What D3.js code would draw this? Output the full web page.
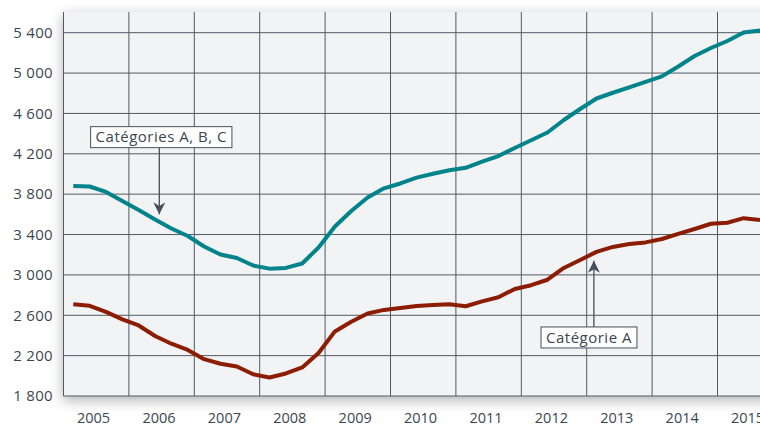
<!DOCTYPE html>
<html lang="fr">
<head>
    <meta charset="UTF-8">
    <title>Catégories A, B, C et Catégorie A</title>
    <style>
        body { margin: 0; background: #fff; }
        svg { display: block; font-family: "Open Sans", "Noto Sans", sans-serif; }
    </style>
</head>
<body>
    <script src="https://d3js.org/d3.v7.min.js"></script>
    <script>
        // quarterly series, first quarter of 2005 to the third of 2015
        let startYear = 2005;
        let catABC = [3880, 3876, 3822, 3733, 3642, 3548, 3460, 3386, 3282, 3202,
                      3168, 3093, 3062, 3069, 3113, 3272, 3480, 3633, 3767, 3858,
                      3906, 3964, 4002, 4037, 4061, 4122, 4178, 4258, 4334, 4411,
                      4535, 4644, 4748, 4805, 4859, 4912, 4967, 5065, 5169, 5248,
                      5318, 5402, 5422];
        let catA = [2710, 2694, 2633, 2560, 2499, 2395, 2318, 2256, 2165, 2120,
                    2093, 2015, 1984, 2023, 2083, 2226, 2440, 2536, 2618, 2653,
                    2672, 2692, 2702, 2709, 2689, 2738, 2778, 2861, 2898, 2952,
                    3069, 3148, 3228, 3277, 3306, 3322, 3356, 3406, 3455, 3507,
                    3517, 3562, 3544];
        let years = [2005, 2006, 2007, 2008, 2009, 2010, 2011, 2012, 2013, 2014, 2015];
        let yTicks = [1800, 2200, 2600, 3000, 3400, 3800, 4200, 4600, 5000, 5400];

        let width = 760, height = 425;
        let svg = d3.select("body").append("svg")
            .attr("width", width)
            .attr("height", height);

        let x = d3.scaleLinear().domain([2005, 2016]).range([63.5, 782.9]);
        let y = d3.scaleLinear().domain([1800, 5400]).range([396, 32.7]);

        let fmt = d3.formatLocale({decimal: ",", thousands: "\u00a0", grouping: [3], currency: ["", " €"]}).format(",d");

        // shadow under the plot box
        let defs = svg.append("defs");
        let f = defs.append("filter").attr("id", "shadow")
            .attr("x", "-10%").attr("y", "-20%").attr("width", "130%").attr("height", "140%");
        f.append("feDropShadow")
            .attr("dx", 0).attr("dy", 4)
            .attr("stdDeviation", 7)
            .attr("flood-color", "#000")
            .attr("flood-opacity", 0.32);

        defs.append("marker")
            .attr("id", "head")
            .attr("viewBox", "0 0 10 10")
            .attr("refX", 10).attr("refY", 5)
            .attr("markerWidth", 12).attr("markerHeight", 12)
            .attr("markerUnits", "userSpaceOnUse")
            .attr("orient", "auto")
            .append("path")
            .attr("d", "M0,0 L10,5 L0,10 L3,5 Z")
            .attr("fill", "#46505a");

        let x0 = x(2005), x1 = x(2016), yTop = 12, yBot = y(1800);
        svg.append("rect")
            .attr("x", x0).attr("y", yTop)
            .attr("width", x1 - x0).attr("height", yBot - yTop)
            .attr("fill", "#f2f3f5")
            .attr("filter", "url(#shadow)");

        // grid
        let grid = svg.append("g").attr("stroke", "#4f5a65").attr("stroke-width", 1);
        grid.selectAll("line.h").data(yTicks).enter().append("line")
            .attr("class", "h")
            .attr("x1", x0).attr("x2", x1)
            .attr("y1", d => y(d)).attr("y2", d => y(d));
        grid.selectAll("line.v").data(years).enter().append("line")
            .attr("class", "v")
            .attr("x1", d => x(d)).attr("x2", d => x(d))
            .attr("y1", yTop).attr("y2", yBot);

        // axis labels
        svg.append("g").selectAll("text").data(yTicks).enter().append("text")
            .attr("x", 53)
            .attr("y", d => y(d))
            .attr("dy", "0.35em")
            .attr("text-anchor", "end")
            .attr("font-size", 15)
            .attr("letter-spacing", 0.3)
            .attr("fill", "#3c4650")
            .text(d => fmt(d));

        svg.append("g").selectAll("text").data(years).enter().append("text")
            .attr("x", d => x(d + 0.46))
            .attr("y", 423)
            .attr("text-anchor", "middle")
            .attr("font-size", 14.5)
            .attr("fill", "#3c4650")
            .text(d => d);

        // lines
        let line = d3.line()
            .x((d, i) => x(startYear + 0.15 + i / 4))
            .y(d => y(d));

        svg.append("path").datum(catABC)
            .attr("d", line)
            .attr("fill", "none")
            .attr("stroke", "#00838a")
            .attr("stroke-width", 4)
            .attr("stroke-linejoin", "round");

        svg.append("path").datum(catA)
            .attr("d", line)
            .attr("fill", "none")
            .attr("stroke", "#8c1d02")
            .attr("stroke-width", 4)
            .attr("stroke-linejoin", "round");

        // annotations: box centre and arrow tip in data units
        let notes = [
            {text: "Catégories A, B, C", bx: 2006.495, by: 4365, ax: 2006.465, tip: 3600},
            {text: "Catégorie A", bx: 2013.035, by: 2380, ax: 2013.11, tip: 3140}
        ];

        notes.forEach(function(n){
            let g = svg.append("g");
            let cy = y(n.by);
            let boxH = 21;
            let arrowFrom = n.tip > n.by ? cy - boxH / 2 : cy + boxH / 2;
            g.append("line")
                .attr("x1", x(n.ax)).attr("x2", x(n.ax))
                .attr("y1", arrowFrom).attr("y2", y(n.tip))
                .attr("stroke", "#46505a")
                .attr("stroke-width", 1.3)
                .attr("marker-end", "url(#head)");
            let t = g.append("text")
                .attr("x", x(n.bx))
                .attr("y", cy)
                .attr("dy", "0.35em")
                .attr("text-anchor", "middle")
                .attr("font-size", 15)
                .attr("letter-spacing", 0.5)
                .attr("fill", "#3c4650")
                .text(n.text);
            let w = t.node().getComputedTextLength() + 10;
            g.insert("rect", "text")
                .attr("x", x(n.bx) - w / 2)
                .attr("y", cy - boxH / 2)
                .attr("width", w)
                .attr("height", boxH)
                .attr("fill", "#fff")
                .attr("stroke", "#46505a")
                .attr("stroke-width", 1);
        });
    </script>
</body>
</html>
